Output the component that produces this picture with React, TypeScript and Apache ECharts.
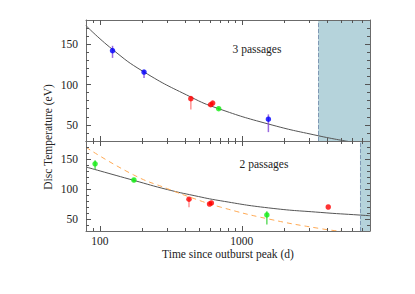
import React, { useEffect, useRef } from "react";
import * as echarts from "echarts";

// ---- axis values ----
const X_MIN = 80;
const X_MAX = 8000;
const Y_MIN = 30;
const Y_MAX = 180;
const xMajor = [100, 1000];
const xMinor = [90, 200, 300, 400, 500, 600, 700, 800, 900, 2000, 3000, 4000, 5000, 6000, 7000];
const yMajor = [50, 100, 150];
const yMinor = [40, 60, 70, 80, 90, 110, 120, 130, 140, 160, 170];

// ---- top panel (3 passages) ----
const topCurve = [
  [80, 173], [122, 144], [203, 116], [438, 84.5], [676, 70.5], [1545, 51], [3460, 36.5], [5600, 29.5],
];
const topBlue = [[123, 142], [205, 115.5], [1540, 57]];
const topBlueErr = [[123, 133, 148], [205, 108, 118], [1540, 41, 63]];
const topRed = [[438, 82.5], [604, 75], [624, 77]];
const topRedErr = [[438, 69, 85], [604, 72.5, 77], [624, 74.5, 79]];
const topGreen = [[688, 70]];
const topGreenErr = [[688, 68.5, 71.5]];

// ---- bottom panel (2 passages) ----
const botCurve = [
  [80, 136.7], [173, 114.5], [300, 99], [462, 89], [705, 80.5], [1545, 68.5], [3570, 61], [6840, 56.5], [8000, 55.5],
];
const botDashed = [
  [80, 169.5], [173, 123.5], [300, 100.5], [462, 84], [705, 70], [1545, 50], [3570, 34], [5000, 29.5],
];
const botGreen = [[92.7, 142], [174, 115], [1502, 56.7]];
const botGreenErr = [[92.7, 133, 148], [174, 112, 118], [1502, 41, 63]];
const botRed = [[425, 83], [593, 75], [611, 76.7], [4065, 70]];
const botRedErr = [[425, 69.5, 85], [593, 73, 77], [611, 74.5, 79]];

// ---- shaded regions start (days) ----
const shadeStart = [3450, 6800];

const FONT = "Liberation Serif";
const FS = 11.5;
const FRAME = "#6b6b6b";
const TICK = "#555";
const TEXT = "#222";

function xAxes(gridIndex: number, withLabels: boolean) {
  const base: any = {
    type: "log",
    logBase: 10,
    gridIndex,
    min: X_MIN,
    max: X_MAX,
    splitLine: { show: false },
    z: 10,
    silent: true,
  };
  const majorTick = { show: true, inside: true, length: 5, customValues: xMajor, lineStyle: { color: TICK, width: 1 } };
  const minorTick = { show: true, inside: true, length: 3, customValues: xMinor, lineStyle: { color: TICK, width: 1 } };
  const line = { show: true, lineStyle: { color: FRAME, width: 1 } };
  return [
    {
      ...base,
      position: "bottom",
      axisLine: line,
      axisTick: majorTick,
      axisLabel: withLabels
        ? { show: true, customValues: xMajor, formatter: (v: number) => String(Math.round(v)), fontFamily: FONT, fontSize: FS, color: TEXT, margin: 4 }
        : { show: false },
      name: withLabels ? "Time since outburst peak (d)" : "",
      nameLocation: "middle",
      nameGap: 17,
      nameTextStyle: { fontFamily: FONT, fontSize: FS, color: TEXT },
    },
    { ...base, position: "top", axisLine: line, axisTick: majorTick, axisLabel: { show: false } },
    { ...base, position: "bottom", axisLine: { show: false }, axisTick: minorTick, axisLabel: { show: false } },
    { ...base, position: "top", axisLine: { show: false }, axisTick: minorTick, axisLabel: { show: false } },
  ];
}

function yAxes(gridIndex: number) {
  const base: any = {
    type: "value",
    gridIndex,
    min: Y_MIN,
    max: Y_MAX,
    splitLine: { show: false },
    z: 10,
    silent: true,
  };
  const majorTick = { show: true, inside: true, length: 5, customValues: yMajor, lineStyle: { color: TICK, width: 1 } };
  const minorTick = { show: true, inside: true, length: 3, customValues: yMinor, lineStyle: { color: TICK, width: 1 } };
  const line = { show: true, lineStyle: { color: FRAME, width: 1 } };
  return [
    {
      ...base,
      position: "left",
      axisLine: line,
      axisTick: majorTick,
      axisLabel: { show: true, customValues: yMajor, fontFamily: FONT, fontSize: FS, color: TEXT, margin: 8 },
    },
    { ...base, position: "right", axisLine: line, axisTick: majorTick, axisLabel: { show: false } },
    { ...base, position: "left", axisLine: { show: false }, axisTick: minorTick, axisLabel: { show: false } },
    { ...base, position: "right", axisLine: { show: false }, axisTick: minorTick, axisLabel: { show: false } },
  ];
}

function errSeries(data: number[][], color: string, axisIdx: number) {
  return {
    type: "custom",
    xAxisIndex: axisIdx,
    yAxisIndex: axisIdx,
    data,
    encode: { x: 0, y: [1, 2] },
    z: 3,
    silent: true,
    renderItem: (_params: any, api: any) => {
      const x = api.value(0);
      const p1 = api.coord([x, api.value(1)]);
      const p2 = api.coord([x, api.value(2)]);
      return {
        type: "line",
        shape: { x1: p1[0], y1: p1[1], x2: p2[0], y2: p2[1] },
        style: { stroke: color, lineWidth: 1.5, opacity: 0.75 },
      };
    },
  };
}

function pts(data: number[][], color: string, axisIdx: number) {
  return {
    type: "scatter",
    xAxisIndex: axisIdx,
    yAxisIndex: axisIdx,
    data,
    symbol: "circle",
    symbolSize: 5.5,
    itemStyle: { color },
    z: 4,
    silent: true,
  };
}

function shade(start: number) {
  return {
    silent: true,
    data: [[{ xAxis: start, yAxis: Y_MIN }, { xAxis: X_MAX, yAxis: Y_MAX }]],
    itemStyle: { color: "#b5d3db", borderWidth: 0 },
  };
}

function shadeLine(start: number) {
  return {
    silent: true,
    symbol: ["none", "none"],
    label: { show: false },
    lineStyle: { color: "#7f98b4", type: "dashed", width: 1 },
    data: [{ xAxis: start }],
  };
}

function curve(data: number[][], axisIdx: number, lineStyle: any, extra: any = {}) {
  return {
    type: "line",
    xAxisIndex: axisIdx,
    yAxisIndex: axisIdx,
    data,
    smooth: 0.5,
    showSymbol: false,
    symbol: "none",
    lineStyle,
    z: 2,
    silent: true,
    ...extra,
  };
}

export default function App() {
  const ref = useRef<HTMLDivElement>(null);
  useEffect(() => {
    if (!ref.current) return;
    const chart = echarts.init(ref.current, undefined, { renderer: "svg" });
    const option: any = {
      animation: false,
      backgroundColor: "#ffffff",
      textStyle: { fontFamily: FONT },
      grid: [
        { left: 86, top: 20, width: 284, height: 121 },
        { left: 86, top: 141, width: 284, height: 90 },
      ],
      xAxis: [...xAxes(0, false), ...xAxes(1, true)],
      yAxis: [...yAxes(0), ...yAxes(1)],
      graphic: [
        {
          type: "text",
          x: 48,
          y: 137,
          rotation: Math.PI / 2,
          style: { text: "Disc Temperature (eV)", fontFamily: FONT, fontSize: FS, fill: TEXT, align: "center", verticalAlign: "middle" },
        },
        {
          type: "text",
          x: 257,
          y: 49,
          style: { text: "3 passages", fontFamily: FONT, fontSize: FS, fill: TEXT, align: "center", verticalAlign: "middle" },
        },
        {
          type: "text",
          x: 264,
          y: 164,
          style: { text: "2 passages", fontFamily: FONT, fontSize: FS, fill: TEXT, align: "center", verticalAlign: "middle" },
        },
      ],
      series: [
        curve(topCurve, 0, { color: "#555", width: 1 }, {
          markArea: shade(shadeStart[0]),
          markLine: shadeLine(shadeStart[0]),
        }),
        errSeries(topBlueErr, "#7a3ad6", 0),
        errSeries(topRedErr, "#ff7070", 0),
        errSeries(topGreenErr, "#30d030", 0),
        pts(topBlue, "#0000ff", 0),
        pts(topRed, "#ff0000", 0),
        pts(topGreen, "#11ee11", 0),
        curve(botCurve, 4, { color: "#555", width: 1 }, {
          markArea: shade(shadeStart[1]),
          markLine: shadeLine(shadeStart[1]),
        }),
        curve(botDashed, 4, { color: "#ffaa55", width: 1, type: [5, 4] }),
        errSeries(botGreenErr, "#30d030", 4),
        errSeries(botRedErr, "#ff7070", 4),
        pts(botGreen, "#11ee11", 4),
        pts(botRed, "#ff0000", 4),
      ],
    };
    chart.setOption(option);
    return () => chart.dispose();
  }, []);
  return <div ref={ref} style={{ position: "absolute", left: 0, top: 0, width: 415, height: 294, background: "#fff" }} />;
}
